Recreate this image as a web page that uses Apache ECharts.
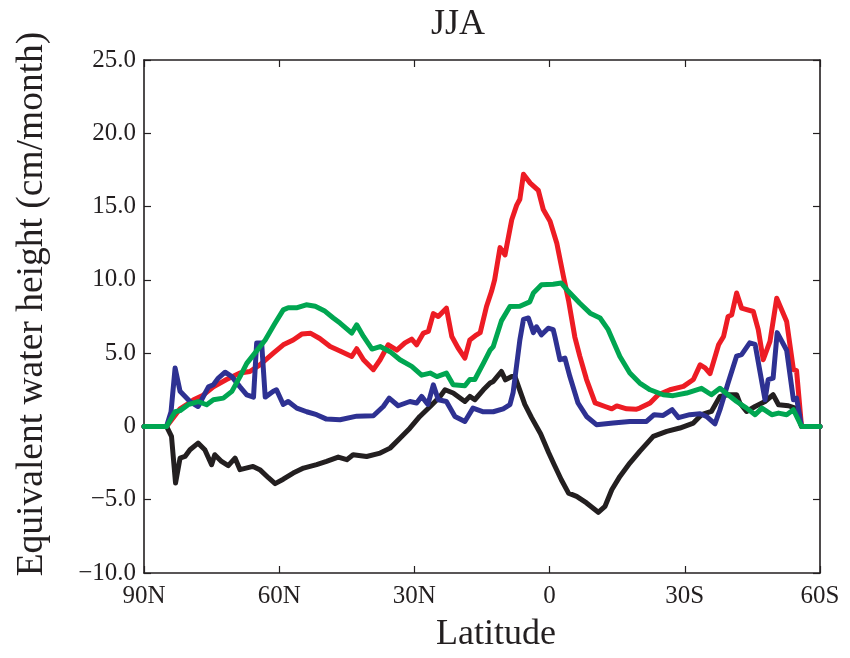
<!DOCTYPE html>
<html>
<head>
<meta charset="utf-8">
<script src="https://cdn.jsdelivr.net/npm/echarts@6/dist/echarts.min.js"></script>
<style>html,body{margin:0;padding:0;background:#fff;}#c{width:850px;height:658px;}</style>
</head>
<body>
<div id="c"></div>
<script>
// [latitude (deg, N positive), value (cm/month)]
const redData = [[90,0],[85,0],[83,0.8],[82,1.2],[80,1.6],[79,1.82],[77,2.1],[74.6,2.7],[71.7,3.2],[68.7,3.64],[66.5,3.75],[64.3,4.2],[61.3,5.0],[59.1,5.57],[56.9,5.9],[55,6.3],[53,6.35],[51,6.0],[48.7,5.45],[46.5,5.15],[43.9,4.77],[42.8,5.3],[41.3,4.55],[39.1,3.87],[37.6,4.55],[35.8,5.57],[33.9,5.2],[32.1,5.7],[30.6,5.96],[29.5,5.57],[28,6.37],[26.9,6.48],[25.8,7.7],[24.7,7.5],[22.9,8.07],[21.7,6.14],[20.3,5.35],[18.8,4.66],[17.7,5.9],[16.2,6.25],[15.4,6.4],[14,8.18],[12.9,9.2],[12.2,10],[11,12.2],[9.9,11.7],[8.4,14.1],[7.3,15.1],[6.6,15.5],[5.8,17.2],[4.3,16.6],[2.5,16.1],[1.4,14.8],[-0.1,14],[-1.6,12.5],[-3.1,10.2],[-4.2,8.6],[-5.6,6.1],[-6.7,4.8],[-8.2,3.2],[-10.1,1.6],[-12.3,1.36],[-13.8,1.2],[-14.9,1.4],[-17.1,1.2],[-19.3,1.18],[-20,1.25],[-21.5,1.48],[-22.3,1.6],[-24.1,2.16],[-26.7,2.5],[-29.7,2.73],[-31.9,3.2],[-33.4,4.2],[-34.5,4.0],[-35.6,3.6],[-37.5,5.57],[-38.6,6.14],[-39.6,7.5],[-40.4,7.6],[-41.5,9.1],[-42.6,8.07],[-45.2,7.84],[-46.3,6.6],[-47.4,4.55],[-48.9,5.8],[-50.4,8.75],[-52.6,7.16],[-54.1,3.87],[-54.8,3.8],[-55.9,0],[-60,0]];
const blueData = [[90,0],[85,0],[84,1.0],[83.1,3.98],[82,2.4],[79.8,1.7],[78,1.36],[75.7,2.7],[74.6,2.84],[73.5,3.3],[72,3.7],[70.5,3.4],[68.7,2.7],[67.2,2.16],[65.7,2.0],[65,5.7],[63.9,5.7],[63.1,2.0],[61.3,2.4],[60.6,2.5],[59.1,1.5],[58,1.7],[56.1,1.25],[53.9,1.0],[51.7,0.8],[49.5,0.5],[46.5,0.46],[42.8,0.7],[39.1,0.73],[36.9,1.36],[35.6,1.93],[33.6,1.41],[31,1.7],[29.5,1.6],[28.4,2.05],[27,1.5],[25.8,2.84],[24.7,1.82],[22.9,1.7],[21,0.68],[18.8,0.34],[17,1.25],[14.7,1.0],[12.5,1.0],[10.3,1.2],[8.8,1.48],[8.1,2.3],[6.6,5.9],[5.8,7.3],[4.7,7.4],[3.6,6.4],[2.9,6.8],[1.8,6.25],[0.3,6.7],[-0.8,6.6],[-1.2,6.1],[-2.3,4.55],[-3.4,4.66],[-4.5,3.4],[-6.3,1.6],[-8.2,0.68],[-10.4,0.12],[-14.1,0.23],[-17.8,0.34],[-20,0.34],[-21.5,0.34],[-23.2,0.8],[-25.2,0.75],[-27.2,1.14],[-28.6,0.6],[-31.1,0.8],[-33.4,0.87],[-34.8,0.68],[-36.7,0.18],[-37.8,1.14],[-39.6,2.96],[-41.5,4.8],[-42.6,4.9],[-44.4,5.7],[-45.6,5.6],[-47.8,1.82],[-48.5,3.2],[-49.6,3.3],[-50.5,6.4],[-52.6,5.2],[-54.1,1.82],[-54.8,1.93],[-55.9,0],[-60,0]];
const greenData = [[90,0],[85,0],[83.1,1.0],[82,1.08],[80.2,1.48],[78,1.7],[76.1,1.48],[74.6,1.82],[72.4,1.93],[70.5,2.39],[68.7,3.4],[67.2,4.3],[65.4,5.0],[63.1,5.9],[61,7.0],[59.1,7.95],[58,8.1],[56,8.1],[54,8.3],[52,8.2],[50,7.9],[48,7.4],[46.5,7.05],[43.9,6.37],[42.8,6.93],[41.3,6.14],[39.4,5.28],[37.6,5.45],[35.4,5.1],[33.2,4.55],[30.6,4.1],[28.4,3.5],[26.5,3.64],[25,3.4],[22.9,3.64],[21.4,2.84],[18.8,2.77],[17.7,3.2],[16.6,3.2],[14.7,4.3],[13.2,5.2],[12.5,5.45],[10.7,7.2],[8.8,8.18],[6.6,8.2],[4.4,8.5],[3.6,9.1],[1.8,9.66],[-0.8,9.7],[-2.6,9.78],[-4.2,9.2],[-6.7,8.4],[-9,7.73],[-11.2,7.4],[-13,6.6],[-15.6,4.77],[-17.8,3.64],[-20,2.96],[-22.3,2.5],[-25.2,2.16],[-27.4,2.1],[-30.4,2.28],[-33.7,2.6],[-35.9,2.16],[-37.8,2.6],[-39.6,2.16],[-41.5,1.7],[-43.7,1.25],[-45.6,0.8],[-47.1,1.25],[-49.3,0.8],[-50.8,0.91],[-52.6,0.8],[-54.1,1.14],[-55.9,0],[-60,0]];
const blackData = [[90,0],[85,0],[83.9,-0.68],[83,-3.86],[82,-2.16],[80.9,-2.05],[79.8,-1.59],[78,-1.14],[76.5,-1.59],[75,-2.61],[74.3,-1.93],[72.8,-2.39],[71.3,-2.68],[69.8,-2.16],[68.7,-2.95],[65.8,-2.73],[64.3,-2.95],[62.4,-3.5],[60.9,-3.9],[59.1,-3.6],[56.9,-3.18],[54.6,-2.84],[51.7,-2.61],[49.5,-2.39],[46.9,-2.09],[45,-2.27],[43.6,-1.93],[40.6,-2.05],[37.6,-1.82],[35.4,-1.48],[33.2,-0.8],[31,-0.12],[28.8,0.68],[26.5,1.36],[24.3,2.05],[23.2,2.5],[21.4,2.28],[18.8,1.7],[17.7,2.05],[16.6,1.82],[14.7,2.5],[13.2,2.96],[12.5,3.07],[10.7,3.75],[9.8,3.18],[8.4,3.41],[7.7,3.41],[7,2.8],[5.5,1.5],[4,0.6],[2,-0.5],[0.2,-1.8],[-1,-2.6],[-2.6,-3.64],[-4.2,-4.55],[-6,-4.77],[-8.2,-5.22],[-10.8,-5.86],[-12.3,-5.45],[-13.8,-4.32],[-15.6,-3.41],[-17.8,-2.5],[-20,-1.7],[-23,-0.68],[-26,-0.34],[-28.9,-0.11],[-31.9,0.23],[-33.7,0.8],[-35.9,1.02],[-37.8,2.05],[-39.6,2.16],[-41.5,2.16],[-42.2,1.6],[-43.7,1.02],[-45.6,1.36],[-47.8,1.7],[-49.6,2.16],[-50.8,1.48],[-53,1.41],[-54.5,1.25],[-55.9,0],[-60,0]];

const xTickValues = [90, 60, 30, 0, -30, -60];
const xTickLabels = ['90N', '60N', '30N', '0', '30S', '60S'];
const yTickValues = [25, 20, 15, 10, 5, 0, -5, -10];
const yTickLabels = ['25.0', '20.0', '15.0', '10.0', '5.0', '0', '\u22125.0', '\u221210.0'];

const FONT = '"Liberation Serif", "Times New Roman", serif';
const INK = '#231f20';

function xLabel(v) { const i = xTickValues.indexOf(v); return i >= 0 ? xTickLabels[i] : ''; }
function yLabel(v) { const i = yTickValues.indexOf(v); return i >= 0 ? yTickLabels[i] : ''; }

const axisLineStyle = { onZero: false, lineStyle: { color: INK, width: 1.6 } };
const tickStyle = { inside: true, length: 7, lineStyle: { color: INK, width: 1.2 } };

function mkSeries(data, color) {
  return { type: 'line', data: data, symbol: 'none', smooth: false,
    lineStyle: { color: color, width: 5, join: 'round', cap: 'round' }, itemStyle: { color: color }, animation: false };
}

const chart = echarts.init(document.getElementById('c'), null, { renderer: 'canvas' });
chart.setOption({
  backgroundColor: '#ffffff',
  animation: false,
  title: { text: 'JJA', left: 426, top: 2,
    textStyle: { fontFamily: FONT, fontSize: 36, fontWeight: 'normal', color: INK } },
  grid: { left: 144, right: 30, top: 60, bottom: 85 },
  xAxis: [
    { type: 'value', min: -60, max: 90, interval: 30, inverse: true, position: 'bottom',
      axisLine: axisLineStyle, axisTick: tickStyle, splitLine: { show: false },
      axisLabel: { formatter: xLabel, fontFamily: FONT, fontSize: 25, color: INK, margin: 11 },
      name: 'Latitude', nameLocation: 'middle', nameGap: 44,
      nameTextStyle: { fontFamily: FONT, fontSize: 36, color: INK, padding: [0, 0, 0, 28] } },
    { type: 'value', min: -60, max: 90, interval: 30, inverse: true, position: 'top',
      axisLine: axisLineStyle, axisTick: tickStyle, axisLabel: { show: false }, splitLine: { show: false } }
  ],
  yAxis: [
    { type: 'value', min: -10, max: 25, interval: 5, position: 'left',
      axisLine: axisLineStyle, axisTick: tickStyle, splitLine: { show: false },
      axisLabel: { formatter: yLabel, fontFamily: FONT, fontSize: 25, color: INK, margin: 8 },
      name: 'Equivalent water height (cm/month)', nameLocation: 'middle', nameGap: 93,
      nameTextStyle: { fontFamily: FONT, fontSize: 37.5, color: INK, padding: [0, 0, 0, 25] } },
    { type: 'value', min: -10, max: 25, interval: 5, position: 'right',
      axisLine: axisLineStyle, axisTick: tickStyle, axisLabel: { show: false }, splitLine: { show: false } }
  ],
  series: [
    mkSeries(blackData, '#231f20'),
    mkSeries(redData, '#ed1c24'),
    mkSeries(blueData, '#2e3192'),
    mkSeries(greenData, '#00a651')
  ]
});
</script>
</body>
</html>
